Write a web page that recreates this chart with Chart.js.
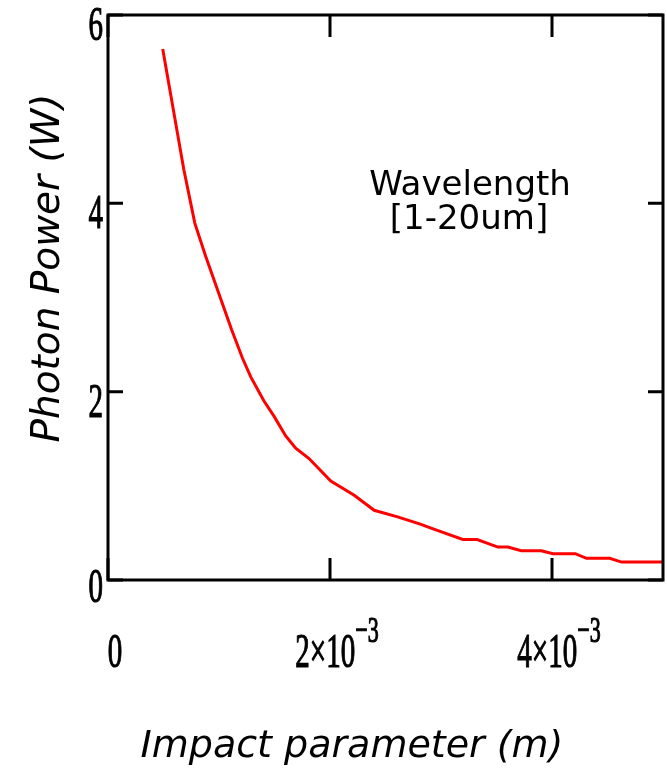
<!DOCTYPE html>
<html>
<head>
<meta charset="utf-8">
<script src="https://cdn.jsdelivr.net/npm/chart.js@4.4.1/dist/chart.umd.min.js"></script>
<style>
  body { margin: 0; background: #fff; }
  #wrap { width: 667px; height: 770px; }
</style>
</head>
<body>
<div id="wrap"><canvas id="miGraficaFotones" width="667" height="770"></canvas></div>
<script>

// impact parameter (m) and photon power (W)
var impacto = [0.000493, 0.000683, 0.000782, 0.000879, 0.001113, 0.001210, 0.001285, 0.001405,
               0.001495, 0.001601, 0.001691, 0.001811, 0.002007, 0.002218, 0.002398, 0.002609,
               0.002820, 0.002910, 0.003196, 0.003326, 0.003512, 0.003603, 0.003723, 0.003903,
               0.004009, 0.004210, 0.004310, 0.004520, 0.004626, 0.005000];
var potencia = [5.64, 4.36, 3.79, 3.44, 2.66, 2.36, 2.16, 1.90,
                1.74, 1.53, 1.40, 1.29, 1.05, 0.90, 0.74, 0.67,
                0.59, 0.55, 0.43, 0.43, 0.35, 0.35, 0.31, 0.31,
                0.28, 0.28, 0.23, 0.23, 0.19, 0.19];

var ticksX = [0, 0.002, 0.004];
var etiquetasX = [["0", ""], ["2\u00d710", "\u22123"], ["4\u00d710", "\u22123"]];
var ticksY = [0, 2, 4, 6];
var etiquetasY = ["0", "2", "4", "6"];

var tituloX = "Impact parameter (m)";
var tituloY = "Photon Power (W)";
var nota = ["Wavelength", "[1-20um]"];

var fuenteNum = "'Liberation Serif', 'Times New Roman', 'DejaVu Serif', serif";

var puntos = new Array();
for (let i = 0; i < impacto.length; i++) {
  puntos.push({ x: impacto[i], y: potencia[i] });
}

// stretched serif text, like the tick numbers of the original plot
function textoAlto(ctx, txt, x, y, size, align) {
  ctx.save();
  ctx.translate(x, y);
  ctx.scale(1, 1.67);
  ctx.font = size + "px " + fuenteNum;
  ctx.textAlign = align;
  ctx.textBaseline = "alphabetic";
  ctx.lineWidth = 0.7;
  ctx.strokeStyle = "#000";
  ctx.fillText(txt, 0, 0);
  ctx.strokeText(txt, 0, 0);
  ctx.restore();
}

var marco = {
  id: "marco",
  afterDraw: function (chart) {
    var ctx = chart.ctx;
    var a = chart.chartArea;
    var sx = chart.scales.x;
    var sy = chart.scales.y;

    ctx.save();
    ctx.strokeStyle = "#000";
    ctx.lineWidth = 3;
    ctx.strokeRect(a.left, a.top, a.right - a.left, a.bottom - a.top);

    // inner tick marks
    ctx.beginPath();
    ticksY.forEach(function (v) {
      var py = sy.getPixelForValue(v);
      ctx.moveTo(a.left, py); ctx.lineTo(a.left + 15, py);
      ctx.moveTo(a.right, py); ctx.lineTo(a.right - 15, py);
    });
    ticksX.forEach(function (v) {
      var px = sx.getPixelForValue(v);
      ctx.moveTo(px, a.bottom); ctx.lineTo(px, a.bottom - 22);
      ctx.moveTo(px, a.top); ctx.lineTo(px, a.top + 22);
    });
    ctx.stroke();

    ctx.fillStyle = "#000";
    ticksY.forEach(function (v, i) {
      var py = sy.getPixelForValue(v);
      var dy = (v == 0) ? 22 : 25;
      textoAlto(ctx, etiquetasY[i], a.left - 5, py + dy, 29, "right");
    });

    ticksX.forEach(function (v, i) {
      var px = sx.getPixelForValue(v) + 7;
      var base = etiquetasX[i][0];
      var exp = etiquetasX[i][1];
      ctx.font = "29px " + fuenteNum;
      var wb = ctx.measureText(base).width;
      ctx.font = "22px " + fuenteNum;
      var we = ctx.measureText(exp).width;
      var x0 = px - (wb + we) / 2;
      textoAlto(ctx, base, x0, 667, 29, "left");
      if (exp) textoAlto(ctx, exp, x0 + wb, 642, 22, "left");
    });

    // axis titles
    ctx.font = "oblique 38px 'DejaVu Sans'";
    ctx.textAlign = "center";
    ctx.textBaseline = "alphabetic";
    ctx.fillText(tituloX, 352, 757);

    ctx.save();
    ctx.translate(59, 268);
    ctx.rotate(-Math.PI / 2);
    ctx.font = "oblique 39px 'DejaVu Sans'";
    ctx.fillText(tituloY, 0, 0);
    ctx.restore();

    ctx.font = "34px 'DejaVu Sans'";
    ctx.fillText(nota[0], 470, 195);
    ctx.fillText(nota[1], 469, 229);
    ctx.restore();
  }
};

let miCanvas = document.getElementById("miGraficaFotones").getContext("2d");

var grafica = new Chart(miCanvas, {
  type: "line",
  data: {
    datasets: [{
      label: "Photon power",
      data: puntos,
      borderColor: "rgb(255, 0, 0)",
      backgroundColor: "rgb(255, 0, 0)",
      borderWidth: 3,
      pointRadius: 0,
      tension: 0,
      fill: false
    }]
  },
  options: {
    responsive: false,
    animation: false,
    layout: { padding: { left: 108, top: 15, right: 4, bottom: 190 } },
    plugins: { legend: { display: false }, tooltip: { enabled: false } },
    scales: {
      x: { type: "linear", min: 0, max: 0.005, display: false },
      y: { type: "linear", min: 0, max: 6, display: false }
    }
  },
  plugins: [marco]
});

</script>
</body>
</html>
